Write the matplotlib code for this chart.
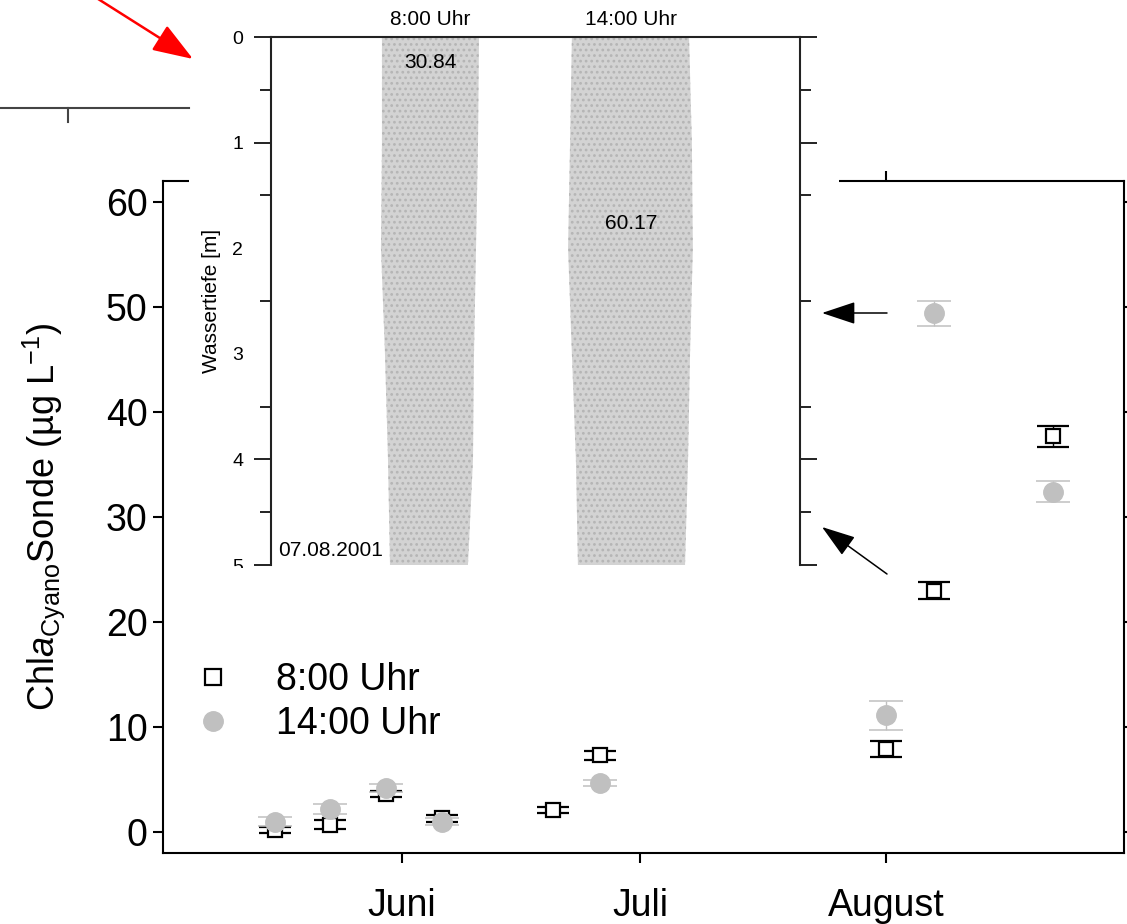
import numpy as np
import matplotlib
matplotlib.use("Agg")
import matplotlib.pyplot as plt
import matplotlib.dates as mdates
from matplotlib.patches import Rectangle, FancyArrowPatch
from matplotlib.lines import Line2D
from matplotlib.transforms import Bbox, TransformedBbox

plt.rcParams['font.family'] = ['Liberation Sans', 'DejaVu Sans']
plt.rcParams['mathtext.fontset'] = 'custom'
plt.rcParams['mathtext.rm'] = 'Liberation Sans'
plt.rcParams['mathtext.it'] = 'Liberation Sans:italic'
plt.rcParams['hatch.linewidth'] = 1.2

# ---- sampling dates and cyanobacterial chlorophyll a (probe) ----
dates = ['2001-05-16', '2001-05-23', '2001-05-30', '2001-06-06', '2001-06-20',
         '2001-06-26', '2001-08-01', '2001-08-07', '2001-08-22']
chla_0800 = [0.2, 0.7, 3.6, 1.3, 2.1, 7.3, 7.9, 23.0, 37.7]
err_0800 = [0.3, 0.4, 0.3, 0.3, 0.3, 0.4, 0.8, 0.8, 1.0]
chla_1400 = [1.0, 2.2, 4.2, 1.0, np.nan, 4.7, 11.1, 49.4, 32.4]
err_1400 = [0.4, 0.5, 0.4, 0.3, np.nan, 0.3, 1.35, 1.2, 1.0]
series_labels = ['8:00 Uhr', '14:00 Uhr']

month_ticks = ['2001-06-01', '2001-07-01', '2001-08-01']
month_labels = ['Juni', 'Juli', 'August']
y_ticks = [0, 10, 20, 30, 40, 50, 60]

# ---- depth profile on 07.08.2001 (inset) ----
profile_times = ['8:00 Uhr', '14:00 Uhr']
depth_levels = [0, 1, 2, 3, 4, 5]
edge_left_0800 = [-0.239, -0.239, -0.244, -0.224, -0.209, -0.199]
edge_right_0800 = [0.244, 0.239, 0.229, 0.219, 0.214, 0.189]
edge_left_1400 = [-0.294, -0.303, -0.313, -0.294, -0.274, -0.264]
edge_right_1400 = [0.289, 0.303, 0.308, 0.294, 0.284, 0.269]
max_values = ['30.84', '60.17']
max_depths = [0.24, 1.77]
profile_date = '07.08.2001'
depth_ticks = [0, 1, 2, 3, 4, 5]

W, H = 1127, 924
fig = plt.figure(figsize=(W / 100, H / 100), dpi=100)
fig.patch.set_facecolor('white')


def fx(px):
    return px / W


def fy(py):
    return 1 - py / H


GREY = '#c0c0c0'
MAIN_FS = 27
INSET_FS = 15

# ---- main time-series axes ----
ax = fig.add_axes([fx(163), fy(853), (1124 - 163) / W, (853 - 181) / H], zorder=0)
x = np.array(dates, dtype='datetime64[D]')
ax.errorbar(x, chla_0800, yerr=err_0800, fmt='s', ms=10, mfc='white', mec='black',
            mew=1.6, ecolor='black', elinewidth=1.0, capsize=11.5, capthick=1.1,
            zorder=3)
ax.errorbar(x, chla_1400, yerr=err_1400, fmt='o', ms=14, mfc=GREY, mec=GREY,
            ecolor=GREY, elinewidth=1.0, capsize=12, capthick=1.1, zorder=4)

jun1 = mdates.date2num(np.datetime64('2001-06-01'))
aug1 = mdates.date2num(np.datetime64('2001-08-01'))
ax.set_xlim(jun1 - 30.1, aug1 + 30.0)
ax.set_ylim(-2, 62)
ax.set_xticks(np.array(month_ticks, dtype='datetime64[D]'))
ax.set_xticklabels(month_labels)
ax.set_yticks(y_ticks)
for s in ax.spines.values():
    s.set_linewidth(1.5)
ax.tick_params(axis='both', direction='out', length=7, width=1.5,
               top=True, right=True, labeltop=False, labelright=False,
               labelsize=MAIN_FS)
ax.tick_params(axis='x', pad=18)
ax.tick_params(axis='y', pad=4)
ax.set_ylabel(r'Chl$\it{a}$$_{\rm Cyano}$Sonde (µg L$^{-1}$)', fontsize=26)
ax.yaxis.set_label_coords(-0.100, 0.5)

handles = [Line2D([], [], marker='s', ls='none', ms=12, mfc='white', mec='black', mew=1.6),
           Line2D([], [], marker='o', ls='none', ms=14, mfc=GREY, mec=GREY)]
ax.legend(handles, series_labels, loc='upper left', bbox_to_anchor=(0.032, 0.284),
          frameon=False, fontsize=MAIN_FS, handlelength=1.0, handletextpad=1.2,
          labelspacing=0.22, borderpad=0, borderaxespad=0)

# ---- white panel carrying the depth profile ----
fig.add_artist(Rectangle((fx(189), fy(568)), fx(839) - fx(189), 1 - fy(568),
                         transform=fig.transFigure, facecolor='white',
                         edgecolor='none', zorder=1))

axin = fig.add_axes([fx(271), fy(565), (800 - 271) / W, (565 - 37) / H], zorder=2)
axin.set_facecolor('white')
axin.set_xlim(-0.791, 1.841)
axin.set_ylim(5, 0)
for key, s in axin.spines.items():
    s.set_linewidth(1.5)
    s.set_color('#222222')
axin.spines['bottom'].set_visible(False)

hatch_kw = dict(facecolor='#d3d3d3', edgecolor='#b5b5b5', hatch='...', linewidth=0)
axin.fill_betweenx(depth_levels, np.array(edge_left_0800), np.array(edge_right_0800), **hatch_kw)
axin.fill_betweenx(depth_levels, 1 + np.array(edge_left_1400), 1 + np.array(edge_right_1400), **hatch_kw)

inset_font = ['Liberation Sans', 'DejaVu Sans']
for i, (val, d) in enumerate(zip(max_values, max_depths)):
    axin.text(i, d, val, ha='center', va='center', fontsize=INSET_FS, family=inset_font)
axin.text(0.013, 0.017, profile_date, transform=axin.transAxes, ha='left',
          va='baseline', fontsize=INSET_FS, family=inset_font, zorder=0.5)

axin.set_yticks(depth_ticks)
axin.set_yticklabels([str(d) for d in depth_ticks], family=inset_font)
axin.set_yticks(np.arange(0.5, 5, 1.0), minor=True)
axin.tick_params(axis='y', which='major', direction='out', length=12, width=1.4,
                 left=True, right=True, labelsize=INSET_FS - 1, pad=8, color='#222222')
axin.tick_params(axis='y', which='minor', direction='out', length=8, width=1.4,
                 left=True, right=True, color='#222222')
for t, loc in zip(axin.yaxis.get_major_ticks(), depth_ticks):
    if loc in (2, 3):
        t.tick1line.set_visible(False)
        t.tick2line.set_visible(False)

panel_clip = TransformedBbox(Bbox.from_extents(fx(189), fy(568), fx(839), 1.0),
                             fig.transFigure)
for t in axin.yaxis.get_major_ticks():
    t.label1.set_clip_box(panel_clip)
    t.label1.set_clip_on(True)

axin.xaxis.tick_top()
axin.set_xticks([0, 1])
axin.set_xticklabels(profile_times, family=inset_font)
axin.tick_params(axis='x', which='both', length=0, labelsize=INSET_FS, pad=6)
axin.set_ylabel('Wassertiefe [m]', fontsize=INSET_FS, family=inset_font)
axin.yaxis.set_label_coords(-0.094, 0.5)

# ---- fragment of the neighbouring panel ----
fig.add_artist(Line2D([0, fx(189)], [fy(108), fy(108)], transform=fig.transFigure,
                      color='#444444', lw=1.5, zorder=1))
fig.add_artist(Line2D([fx(68), fx(68)], [fy(108), fy(122)], transform=fig.transFigure,
                      color='#444444', lw=1.5, zorder=1))

# ---- arrows ----
fig.add_artist(FancyArrowPatch((fx(95), fy(-3)), (fx(193), fy(59)),
                               transform=fig.transFigure,
                               arrowstyle='-|>,head_length=25,head_width=9',
                               mutation_scale=1, color='red', lw=1.8,
                               shrinkA=0, shrinkB=0, zorder=5))
for (x0, y0), (x1, y1) in [((887, 313), (822, 313)), ((887, 574), (822, 527))]:
    fig.add_artist(FancyArrowPatch((fx(x0), fy(y0)), (fx(x1), fy(y1)),
                                   transform=fig.transFigure,
                                   arrowstyle='-|>,head_length=21,head_width=7',
                                   mutation_scale=1, color='black', lw=1.1,
                                   shrinkA=0, shrinkB=0, zorder=5))

fig.savefig('out.png', dpi=100, facecolor='white')
